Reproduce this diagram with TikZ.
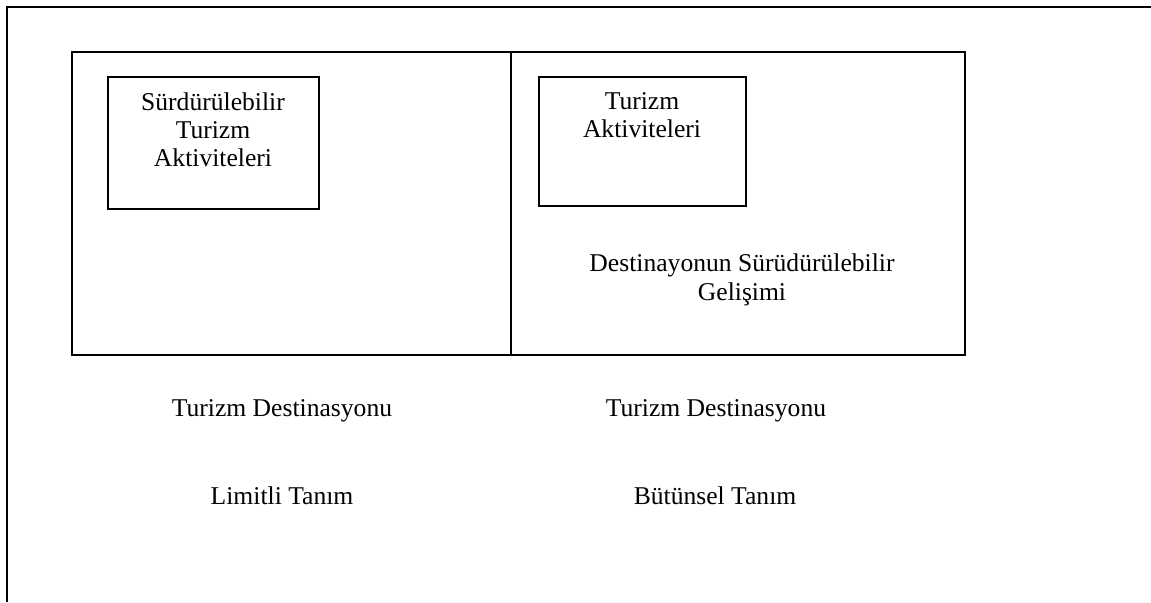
\documentclass[tikz,border=0pt]{standalone}
\usepackage{fontspec}
\setmainfont{Liberation Serif}
\begin{document}
\begin{tikzpicture}[x=0.5pt,y=-0.5pt,
  frame/.style={draw=black,line width=1.2pt},
  box/.style={draw=black,line width=1pt},
  lbl/.style={font=\fontsize{12.8}{14.2}\selectfont,align=center,inner sep=0pt}]
\useasboundingbox (0,0) rectangle (1151,602);
\coordinate (ftl) at (7,7);
\coordinate (ftr) at (1151,7);
\coordinate (fbl) at (7,602);
\draw[frame] (ftr) -- (ftl) -- (fbl);
\draw[box] (72,52) rectangle (511,355);
\draw[box] (511,52) rectangle (965,355);
\node[box,minimum width=105.5pt,minimum height=66pt,anchor=north west,inner sep=0pt] (inL) at (107,76) {};
\node[box,minimum width=103.5pt,minimum height=64.5pt,anchor=north west,inner sep=0pt] (inR) at (538,76) {};
\node[lbl,anchor=north] (tL) at (213,92) {Sürdürülebilir\\Turizm\\Aktiviteleri};
\node[lbl,anchor=north] (tR) at (642,92) {Turizm\\Aktiviteleri};
\node[lbl] (dev) at (742,280) {Destinayonun Sürüdürülebilir\\Gelişimi};
\node[lbl] (d1) at (282,411) {Turizm Destinasyonu};
\node[lbl] (d2) at (716,411) {Turizm Destinasyonu};
\node[lbl] (l1) at (282,496) {Limitli Tanım};
\node[lbl] (l2) at (715,496) {Bütünsel Tanım};
\end{tikzpicture}
\end{document}
